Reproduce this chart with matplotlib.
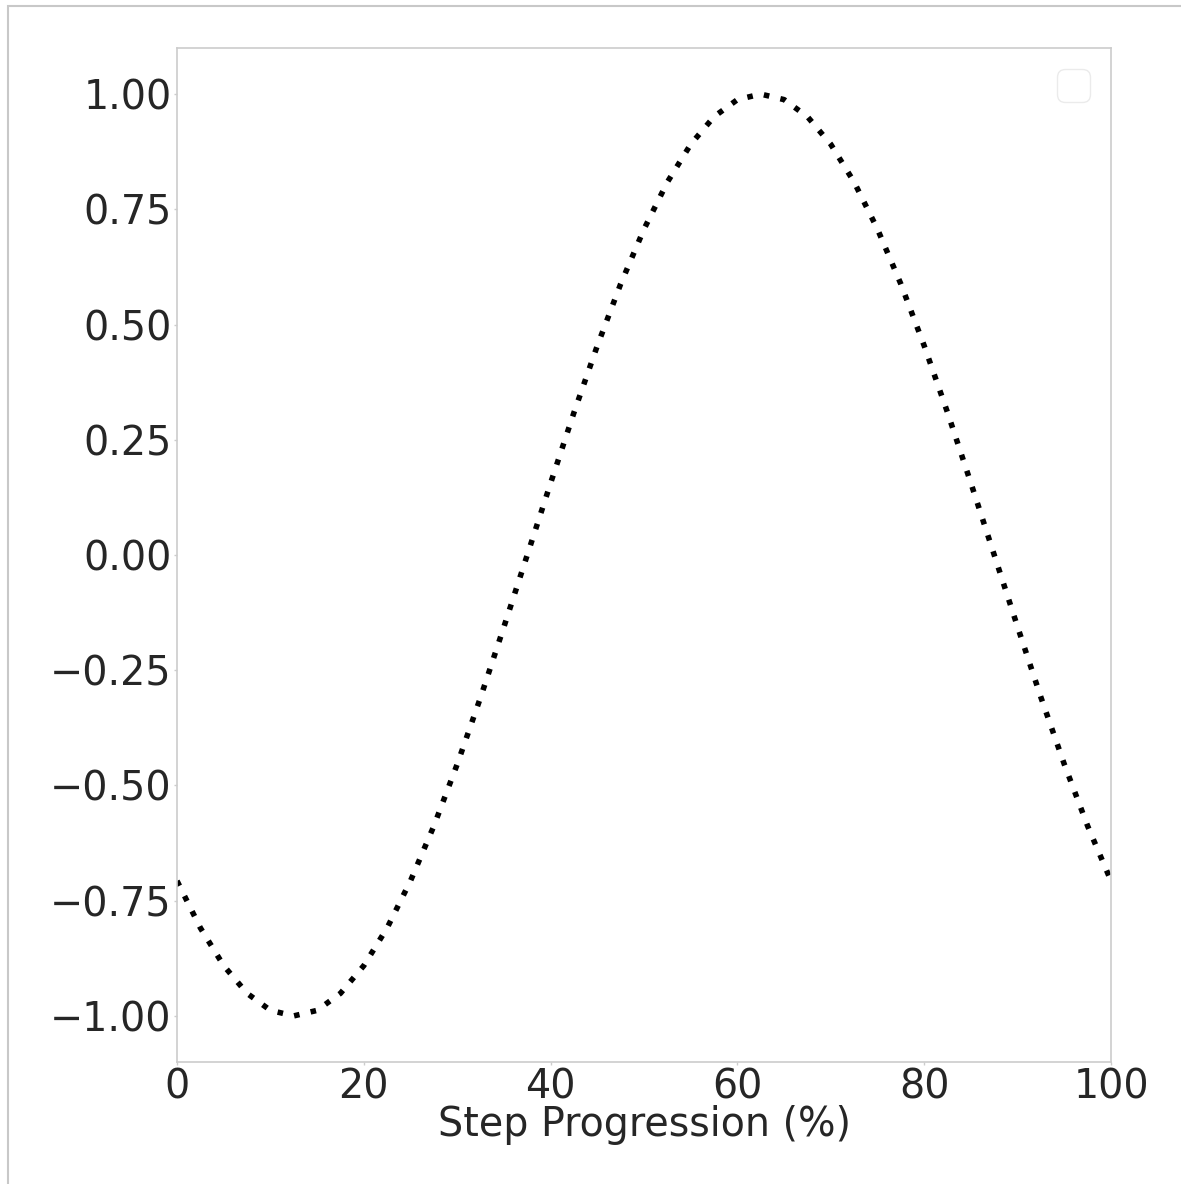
import matplotlib
matplotlib.use("Agg")
import matplotlib.pyplot as plt
from matplotlib.patches import Rectangle

# Step progression (%) and the normalised signal
step = [0, 2.5, 5, 7.5, 10, 12.5, 15, 17.5, 20, 22.5,
        25, 27.5, 30, 32.5, 35, 37.5, 40, 42.5, 45, 47.5,
        50, 52.5, 55, 57.5, 60, 62.5, 65, 67.5, 70, 72.5,
        75, 77.5, 80, 82.5, 85, 87.5, 90, 92.5, 95, 97.5, 100]
signal = [-0.707, -0.809, -0.891, -0.951, -0.988, -1.0, -0.988, -0.951, -0.891, -0.809,
          -0.707, -0.588, -0.454, -0.309, -0.156, 0.0, 0.156, 0.309, 0.454, 0.588,
          0.707, 0.809, 0.891, 0.951, 0.988, 1.0, 0.988, 0.951, 0.891, 0.809,
          0.707, 0.588, 0.454, 0.309, 0.156, 0.0, -0.156, -0.309, -0.454, -0.588, -0.707]

yticks = [-1.0, -0.75, -0.5, -0.25, 0.0, 0.25, 0.5, 0.75, 1.0]
ylabels = ["\u22121.00", "\u22120.75", "\u22120.50", "\u22120.25", "0.00",
           "0.25", "0.50", "0.75", "1.00"]
xticks = [0, 20, 40, 60, 80, 100]

W, H = 1181, 1184
txt = "#262626"
fs = 28.5

fig = plt.figure(figsize=(W / 100, H / 100), dpi=100)

# light frame around the figure (only left and top edges are visible)
fig.patches.append(Rectangle((8 / W, -0.1), 1.2, 1.1 - 6 / H, transform=fig.transFigure,
                             fill=False, edgecolor="#c8c8c8", linewidth=1.5))

ax = fig.add_axes([177 / W, 1 - 1062 / H, (1111 - 177) / W, (1062 - 48) / H])
ax.plot(step, signal, color="black", linestyle=(0, (1, 2.05)), linewidth=4)

ax.set_xlim(0, 100)
ax.set_ylim(-1.1, 1.1)
ax.set_xticks(xticks)
ax.set_yticks(yticks)
ax.set_yticklabels(ylabels)
ax.tick_params(labelsize=fs, labelcolor=txt, length=2.5, width=1, color="#cccccc", pad=1.5)
for s in ax.spines.values():
    s.set_color("#cccccc")
    s.set_linewidth(1.2)
ax.set_xlabel("Step Progression (%)", fontsize=fs, color=txt, labelpad=-2)

leg = ax.legend(handles=[], loc="upper right", fontsize=30, frameon=True)
leg.get_frame().set_edgecolor("#e6e6e6")

fig.savefig("out.png", dpi=100)
